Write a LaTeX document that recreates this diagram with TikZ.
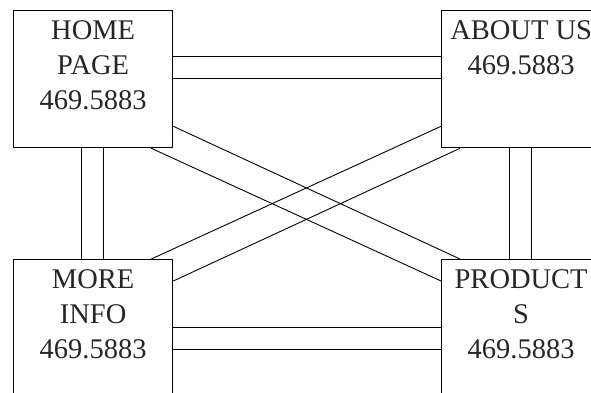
\documentclass[tikz,border=0pt]{standalone}
\usepackage{fontspec}
\setmainfont{Liberation Serif}
\begin{document}
\begin{tikzpicture}[x=1pt,y=-1pt,
  page/.style={draw, line width=1.3pt, minimum width=159pt, minimum height=137pt, inner sep=0pt, anchor=north west},
  ptext/.style={anchor=north, inner sep=0pt, align=center, font=\fontsize{28.5}{35}\selectfont, text=black!85},
  link/.style={line width=1pt},
  diag/.style={line width=0.9pt}]
\useasboundingbox (0,0) rectangle (591,393);
\node[page] (home) at (13,10) {};
\node[page] (about) at (441,10) {};
\node[page] (more) at (13,259) {};
\node[page] (prod) at (441,259) {};
\node[ptext] (homet) at ([yshift=-10pt]home.north) {HOME\\PAGE\\469.5883};
\node[ptext] (aboutt) at ([yshift=-10pt]about.north) {ABOUT US\\469.5883};
\node[ptext] (moret) at ([yshift=-10pt]more.north) {MORE\\INFO\\469.5883};
\node[ptext] (prodt) at ([yshift=-10pt]prod.north) {PRODUCT\\S\\469.5883};
% horizontal pairs
\draw[link] ([yshift=-47pt]home.north east) -- ([yshift=-47pt]about.north west);
\draw[link] ([yshift=-69pt]home.north east) -- ([yshift=-69pt]about.north west);
\draw[link] ([yshift=-68pt]more.north east) -- ([yshift=-68pt]prod.north west);
\draw[link] ([yshift=-90pt]more.north east) -- ([yshift=-90pt]prod.north west);
% vertical pairs
\draw[link] ([xshift=68pt]home.south west) -- ([xshift=68pt]more.north west);
\draw[link] ([xshift=90pt]home.south west) -- ([xshift=90pt]more.north west);
\draw[link] ([xshift=68pt]about.south west) -- ([xshift=68pt]prod.north west);
\draw[link] ([xshift=90pt]about.south west) -- ([xshift=90pt]prod.north west);
% diagonals
\draw[diag] ([yshift=22pt]home.south east) -- ([xshift=19pt]prod.north west);
\draw[diag] ([xshift=-22pt]home.south east) -- ([yshift=-22pt]prod.north west);
\draw[diag] ([yshift=22pt]about.south west) -- ([xshift=-22pt]more.north east);
\draw[diag] ([xshift=19pt]about.south west) -- ([yshift=-22pt]more.north east);
\end{tikzpicture}
\end{document}
